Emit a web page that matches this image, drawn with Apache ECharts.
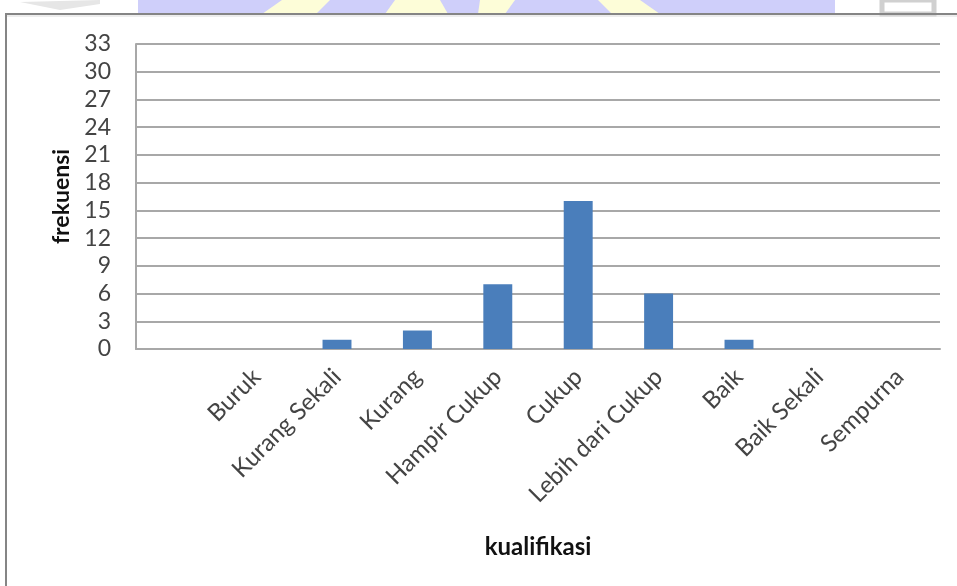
<!DOCTYPE html>
<html>
<head>
<meta charset="utf-8">
<script src="https://cdn.jsdelivr.net/npm/echarts@6/dist/echarts.min.js"></script>
<style>
html,body{margin:0;padding:0;background:#fff;}
#c{width:957px;height:586px;}
</style>
</head>
<body>
<div id="c"></div>
<script>
var categories = ["", "Buruk", "Kurang Sekali", "Kurang", "Hampir Cukup", "Cukup", "Lebih dari Cukup", "Baik", "Baik Sekali", "Sempurna"];
var frekuensi = [null, 0, 1, 2, 7, 16, 6, 1, 0, 0];
var yMin = 0, yMax = 33, yStep = 3;
var xTitle = "kualifikasi";
var yTitle = "frekuensi";

var FONT = "Lato, 'Open Sans', sans-serif";
var chart = echarts.init(document.getElementById('c'), null, {renderer: 'canvas'});
chart.setOption({
  animation: false,
  backgroundColor: '#ffffff',
  graphic: [
    {type: 'rect', shape: {x: 138, y: 0, width: 697, height: 14}, style: {fill: '#cfcffa'}, z: -10},
    {type: 'polygon', shape: {points: [[262,14],[282,0],[330,0],[316,14]]}, style: {fill: '#fdfdd8'}, z: -9},
    {type: 'polygon', shape: {points: [[385,14],[395,0],[440,0],[448,14]]}, style: {fill: '#fdfdd8'}, z: -9},
    {type: 'polygon', shape: {points: [[478,14],[480,0],[515,0],[505,14]]}, style: {fill: '#fdfdd8'}, z: -9},
    {type: 'polygon', shape: {points: [[598,0],[640,0],[660,14],[612,14]]}, style: {fill: '#fdfdd8'}, z: -9},
    {type: 'polygon', shape: {points: [[20,2],[100,0],[100,4],[60,10]]}, style: {fill: '#e6e6e6'}, z: -9},
    {type: 'rect', shape: {x: 882, y: 0, width: 52, height: 14}, style: {fill: 'none', stroke: '#d0d0d0', lineWidth: 5}, z: -9},
    {type: 'polyline', shape: {points: [[6,586],[6,14],[957,14]]}, style: {stroke: '#858585', lineWidth: 2, fill: 'none'}, z: 10},
    {type: 'line', shape: {x1: 7, y1: 16, x2: 957, y2: 16}, style: {stroke: '#dcdcdc', lineWidth: 1}, z: 10}
  ],
  grid: {left: 136, right: 17, top: 44, bottom: 237, containLabel: false},
  xAxis: {
    type: 'category',
    data: categories,
    name: xTitle,
    nameLocation: 'middle',
    nameGap: 186,
    nameTextStyle: {fontFamily: FONT, fontSize: 24, fontWeight: 'bold', color: '#111111'},
    axisLine: {show: true, lineStyle: {color: '#a8a8a8', width: 2}},
    axisTick: {show: false},
    axisLabel: {interval: 0, rotate: 45, margin: 24, fontFamily: FONT, fontSize: 24, color: '#444444'},
    splitLine: {show: false}
  },
  yAxis: {
    type: 'value',
    min: yMin, max: yMax, interval: yStep,
    name: yTitle,
    nameLocation: 'middle',
    nameGap: 62,
    nameRotate: 90,
    nameTextStyle: {fontFamily: FONT, fontSize: 23, fontWeight: 'bold', color: '#111111'},
    axisLine: {show: true, lineStyle: {color: '#a8a8a8', width: 2}},
    axisTick: {show: false},
    axisLabel: {margin: 25, fontFamily: FONT, fontSize: 23, color: '#444444'},
    splitLine: {show: true, lineStyle: {color: '#a8a8a8', width: 2}}
  },
  series: [{
    type: 'bar',
    data: frekuensi,
    barWidth: '36%',
    itemStyle: {color: '#4a7ebb'}
  }]
});
</script>
</body>
</html>
